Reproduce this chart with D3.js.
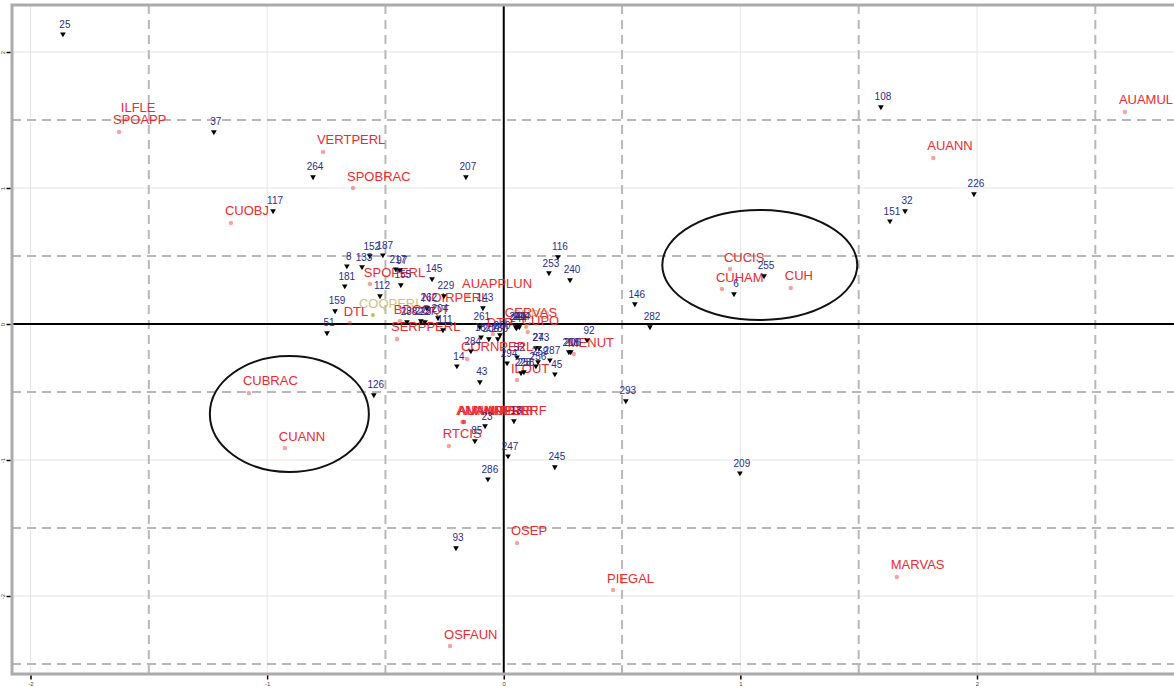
<!DOCTYPE html>
<html><head><meta charset="utf-8">
<script src="https://cdn.jsdelivr.net/npm/d3@7"></script>
<style>body{margin:0;background:#fff}svg{display:block;font-family:"Liberation Sans",Arial,sans-serif}</style>
</head><body><svg id="c" width="1174" height="688"></svg>
<script>
// ---- data ----
const xTicks = [-2, -1, 0, 1, 2];
const yTicks = [-2, -1, 0, 1, 2];
const xTickLabels = ["-2", "-1", "0", "1", "2"];
const yTickLabels = ["-2", "-1", "0", "1", "2"];
const xDashes = [-1.5, -0.5, 0.5, 1.5, 2.5];
const yDashes = [-2.5, -1.5, -0.5, 0.5, 1.5];

// individuals (blue numbers, black triangles)
const indLabels = ["25","37","264","117","207","108","226","32","151","116","253","240","255","6","146","282","92","293","209","245","247","286","93","126","43","14","284","23","85","13","152","187","8","133","217","97","155","181","112","145","229","159","51","262","288","227","223","204","111","143","261","182","200","280","260","294","52","228","258","243","27","259","256","287","45","208","206","241","24","214","244"];
const indX = [-1.863,-1.225,-0.806,-0.975,-0.160,1.594,1.987,1.696,1.632,0.229,0.191,0.280,1.100,0.973,0.554,0.618,0.352,0.516,0.998,0.216,0.018,-0.067,-0.202,-0.549,-0.101,-0.198,-0.139,-0.079,-0.122,0.043,-0.566,-0.511,-0.663,-0.599,-0.456,-0.439,-0.435,-0.672,-0.523,-0.303,-0.253,-0.713,-0.747,-0.325,-0.409,-0.333,-0.350,-0.278,-0.257,-0.088,-0.101,-0.096,-0.063,-0.025,-0.016,0.014,0.056,0.073,0.085,0.149,0.136,0.145,0.136,0.195,0.216,0.275,0.283,0.050,0.060,0.066,0.054];
const indY = [2.132,1.412,1.081,0.831,1.081,1.596,0.956,0.831,0.757,0.493,0.375,0.324,0.353,0.221,0.147,-0.022,-0.118,-0.566,-1.096,-1.051,-0.971,-1.140,-1.647,-0.522,-0.426,-0.309,-0.199,-0.750,-0.860,-0.713,0.500,0.507,0.426,0.419,0.404,0.397,0.287,0.279,0.206,0.331,0.206,0.096,-0.066,0.118,0.015,0.015,0.022,0.044,-0.044,0.118,-0.022,-0.096,-0.110,-0.110,-0.081,-0.287,-0.243,-0.360,-0.353,-0.176,-0.176,-0.279,-0.309,-0.265,-0.368,-0.206,-0.206,-0.022,-0.015,-0.022,-0.030];

// categories (red)
const catLabels = ["ILFLE","SPOAPP","VERTPERL","SPOBRAC","CUOBJ","SPOPERL","DTL","BDCOQT","SERPPERL","NOIRPERL","AUAPPLUN","CERVAS","DTP","CUPO","CORNPERL","MENUT","ILOUT","AUAMULPERF","AUANNPERF","AMMMPERF","ANNMPERF","RTCIS","OSEP","PIEGAL","MARVAS","OSFAUN","AUAMUL","AUANN","CUCIS","CUHAM","CUH","CUBRAC","CUANN"];
const catX = [-1.593,-1.626,-0.764,-0.637,-1.153,-0.566,-0.651,-0.439,-0.451,-0.320,-0.151,0.030,-0.046,0.101,-0.155,0.296,0.056,-0.169,-0.169,-0.169,-0.175,-0.232,0.056,0.462,1.661,-0.227,2.625,1.815,0.956,0.922,1.213,-1.077,-0.925];
const catY = [1.507,1.412,1.265,1.000,0.743,0.294,0.007,0.022,-0.110,0.110,0.206,0.000,-0.074,-0.059,-0.257,-0.221,-0.412,-0.721,-0.721,-0.721,-0.721,-0.897,-1.610,-1.956,-1.860,-2.368,1.559,1.221,0.404,0.257,0.265,-0.507,-0.912];

// supplementary (khaki)
const supLabels = ["COQPERL", "CUPO"];
const supX = [-0.553, 0.094];
const supY = [0.066, -0.022];

// confidence ellipses
const ellCX = [1.082, -0.906];
const ellCY = [0.434, -0.662];
const ellRX = [0.412, 0.336];
const ellRY = [0.404, 0.426];

// ---- drawing ----
const svg = d3.select("#c");
const x = d3.scaleLinear().domain([-2, 2]).range([30.5, 977]);
const y = d3.scaleLinear().domain([-2, 2]).range([596, 52]);
const P = {l: 12, t: 5, r: 1190, b: 674};

// light grid
svg.append("g").selectAll("line").data(xTicks.filter(d => d !== 0)).join("line")
  .attr("x1", d => x(d)).attr("x2", d => x(d)).attr("y1", P.t).attr("y2", P.b)
  .attr("stroke", "#e6e6e6").attr("stroke-width", 1);
svg.append("g").selectAll("line").data(yTicks.filter(d => d !== 0)).join("line")
  .attr("y1", d => y(d)).attr("y2", d => y(d)).attr("x1", P.l).attr("x2", P.r)
  .attr("stroke", "#e6e6e6").attr("stroke-width", 1);

// dashed lines
svg.append("g").selectAll("line").data(xDashes).join("line")
  .attr("x1", d => x(d)).attr("x2", d => x(d)).attr("y1", P.t).attr("y2", P.b)
  .attr("stroke", "#b8b8b8").attr("stroke-width", 2).attr("stroke-dasharray", "9,6");
svg.append("g").selectAll("line").data(yDashes).join("line")
  .attr("y1", d => y(d)).attr("y2", d => y(d)).attr("x1", P.l).attr("x2", P.r)
  .attr("stroke", "#b8b8b8").attr("stroke-width", 2).attr("stroke-dasharray", "9,6");

// zero axes
svg.append("line").attr("x1", x(0)).attr("x2", x(0)).attr("y1", P.t).attr("y2", P.b)
  .attr("stroke", "#000").attr("stroke-width", 2);
svg.append("line").attr("y1", y(0)).attr("y2", y(0)).attr("x1", P.l).attr("x2", P.r)
  .attr("stroke", "#000").attr("stroke-width", 2);

// panel border
svg.append("rect").attr("x", P.l).attr("y", P.t).attr("width", P.r - P.l).attr("height", P.b - P.t)
  .attr("fill", "none").attr("stroke", "#ababab").attr("stroke-width", 3);

// axes ticks
const xa = d3.axisBottom(x).tickValues(xTicks).tickFormat((d, i) => xTickLabels[i]).tickSize(4).tickPadding(2);
const gx = svg.append("g").attr("transform", `translate(0,${P.b + 1.5})`).call(xa);
gx.select(".domain").remove();
gx.selectAll("text").attr("font-size", 6).attr("fill", "#444");
gx.selectAll("line").attr("stroke", "#000").attr("stroke-width", 1.5);
const ya = d3.axisLeft(y).tickValues(yTicks).tickFormat((d, i) => yTickLabels[i]).tickSize(4).tickPadding(2);
const gy = svg.append("g").attr("transform", `translate(${P.l - 1.5},0)`).call(ya);
gy.select(".domain").remove();
gy.selectAll("line").attr("stroke", "#000").attr("stroke-width", 1.5);
gy.selectAll("text").attr("font-size", 6).attr("fill", "#444")
  .attr("text-anchor", "middle").attr("x", -5.5).attr("dy", 0)
  .attr("transform", d => `rotate(-90,-5.5,0)`);

// ellipses
svg.append("g").selectAll("ellipse").data(ellCX).join("ellipse")
  .attr("cx", d => x(d)).attr("cy", (d, i) => y(ellCY[i]))
  .attr("rx", (d, i) => x(ellRX[i]) - x(0)).attr("ry", (d, i) => y(0) - y(ellRY[i]))
  .attr("fill", "none").attr("stroke", "#111").attr("stroke-width", 2);

// supplementary khaki
const sup = supLabels.map((l, i) => ({l, x: supX[i], y: supY[i]}));
svg.append("g").selectAll("circle").data(sup).join("circle")
  .attr("cx", d => x(d.x)).attr("cy", d => y(d.y)).attr("r", 2)
  .attr("fill", "#c9b96a");
svg.append("g").selectAll("text").data(sup).join("text")
  .attr("x", d => x(d.x) - 14).attr("y", d => y(d.y) - 7.5)
  .attr("font-size", 13).attr("fill", "#d2c27a").text(d => d.l);

// categories red
const cats = catLabels.map((l, i) => ({l, x: catX[i], y: catY[i]}));
svg.append("g").selectAll("circle").data(cats).join("circle")
  .attr("cx", d => x(d.x)).attr("cy", d => y(d.y)).attr("r", 2.2)
  .attr("fill", "#f03030").attr("fill-opacity", 0.45);
svg.append("g").selectAll("text").data(cats).join("text")
  .attr("x", d => x(d.x) - 6).attr("y", d => y(d.y) - 7.5)
  .attr("font-size", 13).attr("fill", "#ee2a2e").text(d => d.l);

// individuals
const inds = indLabels.map((l, i) => ({l, x: indX[i], y: indY[i]}));
const tri = d3.symbol().type(d3.symbolTriangle).size(14);
svg.append("g").selectAll("path").data(inds).join("path")
  .attr("d", tri)
  .attr("transform", d => `translate(${x(d.x)},${y(d.y)}) rotate(180)`)
  .attr("fill", "#000");
svg.append("g").selectAll("text").data(inds).join("text")
  .attr("x", d => x(d.x) + 2).attr("y", d => y(d.y) - 6.5)
  .attr("text-anchor", "middle")
  .attr("font-size", 10).attr("fill", "#2b2b94").text(d => d.l);
</script></body></html>
